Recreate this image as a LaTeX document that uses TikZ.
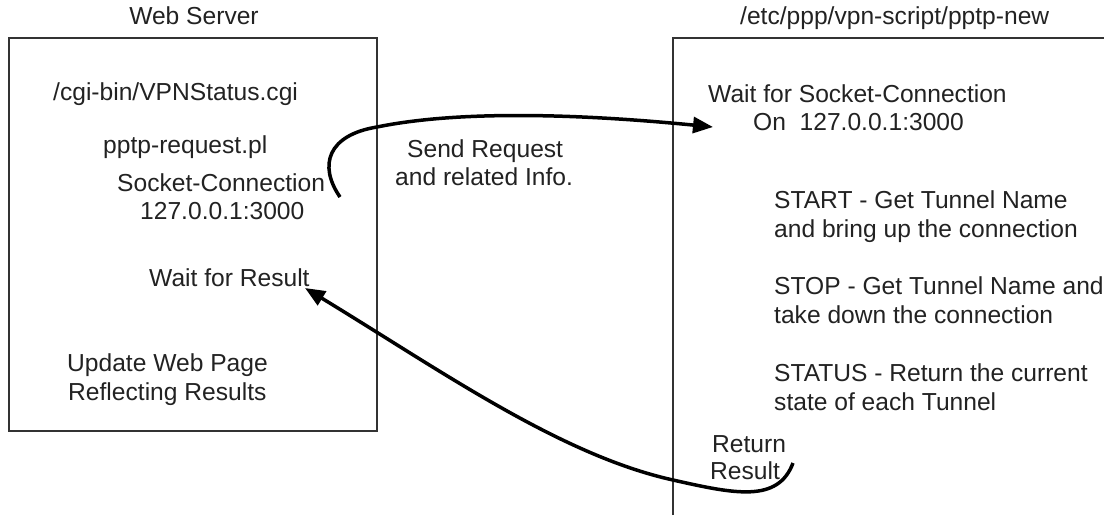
\documentclass[tikz,border=0pt]{standalone}
\usepackage{fontspec}
\setmainfont{Liberation Sans}
\usetikzlibrary{arrows.meta}
\definecolor{txt}{HTML}{222222}
\definecolor{frame}{HTML}{333333}
\tikzset{
  lbl/.style={anchor=base west, inner sep=0pt, text=txt, font=\fontsize{24.6}{29}\selectfont},
  clbl/.style={anchor=base, inner sep=0pt, text=txt, font=\fontsize{24.6}{29}\selectfont},
  boxline/.style={draw=frame, line width=1.5pt},
  flow/.style={draw=black, line width=3.5pt, -{Triangle[length=20pt,width=16pt]}}
}
\begin{document}
\begin{tikzpicture}[x=1pt,y=-1pt]
\useasboundingbox (0,0) rectangle (1104,515);
% boxes
\draw[boxline] (9,38) rectangle (377,431);
\draw[boxline] (673,515) -- (673,38) -- (1104,38);
% left box texts
\node[clbl] (ws) at (194,24) {Web Server};
\node[lbl] (cgi) at (53,100) {/cgi-bin/VPNStatus.cgi};
\node[lbl] (pl) at (103,153) {pptp-request.pl};
\node[lbl] (sock) at (117,191) {Socket-Connection};
\node[lbl] (ip) at (140,219) {127.0.0.1:3000};
\node[lbl] (wait) at (149,286) {Wait for Result};
\node[lbl] (upd) at (67,371) {Update Web Page};
\node[lbl] (refl) at (68,400) {Reflecting Results};
% middle
\node[lbl] (send) at (407,157) {Send Request};
\node[lbl] (rel) at (395,185) {and related Info.};
% right box texts
\node[lbl] (path) at (740,24) {/etc/ppp/vpn-script/pptp-new};
\node[lbl] (wsock) at (708,102) {Wait for Socket-Connection};
\node[lbl] (on) at (753,130) {On\ \ 127.0.0.1:3000};
\node[lbl] (st1) at (774,208) {START - Get Tunnel Name};
\node[lbl] (st2) at (774,237) {and bring up the connection};
\node[lbl] (sp1) at (774,294) {STOP - Get Tunnel Name and};
\node[lbl] (sp2) at (774,323) {take down the connection};
\node[lbl] (ss1) at (774,381) {STATUS - Return the current};
\node[lbl] (ss2) at (774,410) {state of each Tunnel};
\node[lbl] (ret1) at (712,452) {Return};
\node[lbl] (ret2) at (710,479) {Result};
% connectors
\coordinate (sendstart) at (340,197);
\coordinate (sendend) at (713,127);
\coordinate (retstart) at (793,463);
\coordinate (retend) at (305,288);
\draw[flow] (sendstart) .. controls (318,165) and (328,135) .. (377,127)
  .. controls (450,112) and (560,112) .. (sendend);
\draw[flow] (retstart) .. controls (778,503) and (735,494) .. (673,480)
  .. controls (560,455) and (440,370) .. (retend);
\end{tikzpicture}
\end{document}
